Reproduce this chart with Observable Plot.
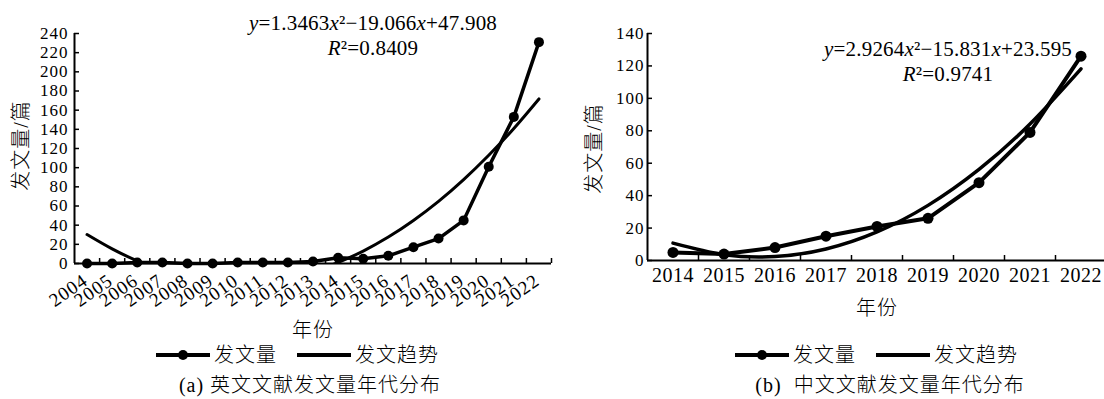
<!DOCTYPE html>
<html><head><meta charset="utf-8">
<script src="https://cdn.jsdelivr.net/npm/d3@7"></script>
<script src="https://cdn.jsdelivr.net/npm/@observablehq/plot@0.6"></script>
<style>
html,body{margin:0;padding:0;background:#fff;}
body{width:1104px;height:399px;overflow:hidden;position:relative;font-family:"Liberation Serif","Noto Sans CJK SC",serif;color:#000;}
.panel{position:absolute;top:0;height:399px;}
.panel svg{display:block;letter-spacing:1px;}
.legend{position:absolute;top:343px;height:24px;display:flex;align-items:center;font-size:20px;line-height:24px;white-space:nowrap;font-weight:300;letter-spacing:1px;}
.legend svg{display:block;}
.caption{position:absolute;top:373px;font-size:20px;line-height:24px;text-align:center;white-space:pre;font-weight:300;letter-spacing:1px;}
</style></head><body>
<div id="pa" class="panel" style="left:0;width:565px"></div>
<div id="pb" class="panel" style="left:570px;width:545px"></div>
<script>
// ---- data ----
const seriesNames = ["发文量", "发文趋势"];
const axisTitleY = "发文量/篇";
const axisTitleX = "年份";

const yearsA = [2004,2005,2006,2007,2008,2009,2010,2011,2012,2013,2014,2015,2016,2017,2018,2019,2020,2021,2022];
const countA = [0,0,1,1,0,0,1,1,1,2,6,5,8,17,26,45,101,153,231];
const trendA = [30.2,15.2,2.8,-6.8,-13.8,-18.0,-19.6,-18.5,-14.6,-8.1,1.1,13.0,27.6,44.9,64.8,87.5,112.9,140.9,171.7];
const yTicksA = [0,20,40,60,80,100,120,140,160,180,200,220,240];
const eqA = ["y", "=1.3463", "x", "²−19.066", "x", "+47.908"];
const r2A = ["R", "²=0.8409"];
const captionA = "(a) 英文文献发文量年代分布";

const yearsB = [2014,2015,2016,2017,2018,2019,2020,2021,2022];
const countB = [5,4,8,15,21,26,48,79,126];
const trendB = [10.7,3.6,2.4,7.1,17.6,34.0,56.2,84.2,118.2];
const yTicksB = [0,20,40,60,80,100,120,140];
const eqB = ["y", "=2.9264", "x", "²−15.831", "x", "+23.595"];
const r2B = ["R", "²=0.9741"];
const captionB = "(b)  中文文献发文量年代分布";

const FONT = "'Liberation Serif', 'Noto Sans CJK SC', serif";

function addEq(svg, cx, y, parts) {
  const t = d3.select(svg).append("text")
    .attr("x", cx).attr("y", y)
    .attr("text-anchor", "middle")
    .style("font-family", FONT).style("letter-spacing", "0.2px")
    .attr("font-size", 21).attr("fill", "#000");
  parts.forEach((p, i) => {
    t.append("tspan").attr("font-style", i % 2 === 0 ? "italic" : "normal").text(p);
  });
}

function makePanel(o) {
  const rows = o.years.map((d, i) => ({year: d, v: o.counts[i]}));
  const trows = o.years.map((d, i) => ({year: d, v: o.trend[i]}));
  const bounds = o.years.map(d => d + 0.5);
  const x0 = o.years[0] - 0.5, x1 = o.years[o.years.length - 1] + 0.5;
  const plotW = o.width - o.marginLeft - o.marginRight;
  const plotH = o.height - o.marginTop - o.marginBottom;
  const chart = Plot.plot({
    width: o.width, height: o.height,
    marginLeft: o.marginLeft, marginRight: o.marginRight,
    marginTop: o.marginTop, marginBottom: o.marginBottom,
    x: {domain: [x0, x1], axis: null},
    y: {domain: [0, o.yTicks[o.yTicks.length - 1]], axis: null},
    style: {fontFamily: FONT, fontSize: "19px", color: "#000", background: "#fff", overflow: "visible"},
    marks: [
      Plot.line(trows, {x: "year", y: "v", curve: "natural", stroke: "#000", strokeWidth: o.trendW, clip: true}),
      Plot.line(rows, {x: "year", y: "v", stroke: "#000", strokeWidth: o.lineW}),
      Plot.dot(rows, {x: "year", y: "v", r: o.r, fill: "#000", stroke: "none"}),
      Plot.ruleY(o.yTicks, {y: d => d, insetRight: plotW - 5, stroke: "#000", strokeWidth: 1.5}),
      Plot.ruleX(bounds, {x: d => d, insetTop: plotH - 5, stroke: "#000", strokeWidth: 1.5}),
      Plot.ruleX([x0], {x: d => d, stroke: "#000", strokeWidth: 2}),
      Plot.ruleY([0], {y: d => d, stroke: "#000", strokeWidth: 2}),
      Plot.text(o.yTicks, {y: d => d, frameAnchor: "left", text: d => String(d), textAnchor: "end", lineAnchor: "middle", dx: o.yLabelDx, fontSize: 17, fontFamily: FONT}),
      Plot.text(o.years, {x: d => d, frameAnchor: "bottom", text: d => String(d),
        rotate: o.rotate, textAnchor: o.rotate ? "end" : "middle", lineAnchor: o.rotate ? "bottom" : "middle",
        dy: o.xLabelDy, dx: o.xLabelDx, fontSize: o.xFont, fontFamily: FONT}),
      Plot.text([axisTitleX], {frameAnchor: "bottom", text: d => d, textAnchor: "middle", lineAnchor: "bottom", dy: o.xTitleDy, fontSize: 20, fontFamily: FONT, fontWeight: 300}),
      Plot.text([axisTitleY], {frameAnchor: "left", text: d => d, rotate: -90, textAnchor: "middle", lineAnchor: "middle", dx: -53, dy: o.yTitleDy, fontSize: 20, fontFamily: FONT, fontWeight: 300})
    ]
  });
  const svg = chart.tagName.toLowerCase() === "svg" ? chart : chart.querySelector("svg");
  if (o.xLabelSpacing != null) {
    d3.select(svg).selectAll("text").filter(function() { return o.years.map(String).includes(this.textContent); })
      .style("letter-spacing", o.xLabelSpacing);
  }
  addEq(svg, o.eqX, o.eqY, o.eq);
  addEq(svg, o.eqX, o.eqY + 25, o.r2);
  const host = document.getElementById(o.id);
  host.appendChild(chart);

  // legend
  const leg = document.createElement("div");
  leg.className = "legend";
  leg.style.left = o.legLeft + "px";
  const sym = (dot) => `<svg width="54" height="24"><line x1="0" y1="12" x2="54" y2="12" stroke="#000" stroke-width="4"/>${dot ? '<circle cx="27" cy="12" r="5" fill="#000"/>' : ''}</svg>`;
  leg.innerHTML = `${sym(true)}<span style="margin-left:4px">${seriesNames[0]}</span>` +
    `<span style="display:inline-block;width:20px"></span>${sym(false)}<span style="margin-left:4px">${seriesNames[1]}</span>`;
  host.appendChild(leg);

  const cap = document.createElement("div");
  cap.className = "caption";
  cap.style.left = o.capLeft + "px";
  cap.style.width = o.capWidth + "px";
  cap.textContent = o.caption;
  host.appendChild(cap);
}

makePanel({
  id: "pa", years: yearsA, counts: countA, trend: trendA, yTicks: yTicksA,
  width: 565, height: 340, marginLeft: 74, marginRight: 14, marginTop: 33, marginBottom: 77,
  trendW: 3, lineW: 3.5, r: 5, yLabelDx: -6,
  rotate: -35, xLabelDy: 20, xLabelDx: 2, xFont: 19, xTitleDy: 73, yTitleDy: -3,
  eq: eqA, r2: r2A, eqX: 373, eqY: 30,
  legLeft: 156, caption: captionA, capLeft: 160, capWidth: 300
});
makePanel({
  id: "pb", years: yearsB, counts: countB, trend: trendB, yTicks: yTicksB,
  width: 545, height: 340, marginLeft: 77, marginRight: 9, marginTop: 33, marginBottom: 80,
  trendW: 3.5, lineW: 4, r: 5.5, yLabelDx: -3,
  rotate: 0, xLabelDy: 15, xLabelDx: 0, xFont: 20, xTitleDy: 54, yTitleDy: 1.5, xLabelSpacing: "0.5px",
  eq: eqB, r2: r2B, eqX: 378, eqY: 56,
  legLeft: 165, caption: captionB, capLeft: 170, capWidth: 300
});
</script>
</body></html>
